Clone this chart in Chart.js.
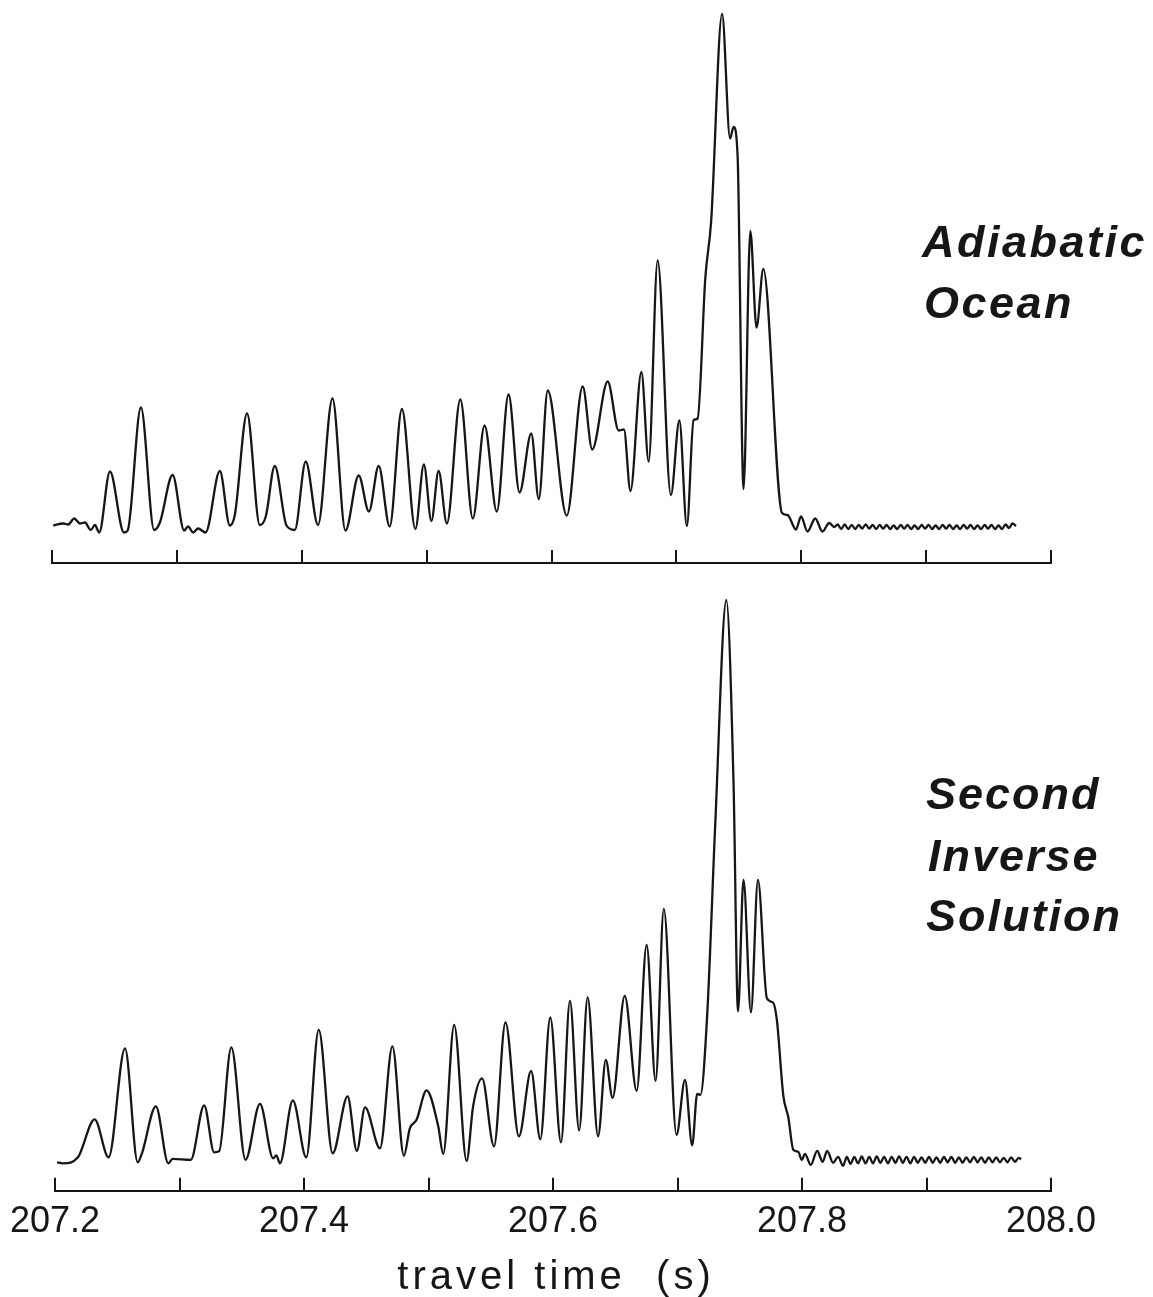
<!DOCTYPE html>
<html><head><meta charset="utf-8">
<script src="https://cdn.jsdelivr.net/npm/chart.js@4.4.1/dist/chart.umd.min.js"></script>
<style>
html,body{margin:0;padding:0;background:#fff;width:1153px;height:1297px;overflow:hidden}
#topChart{position:absolute;left:0;top:0}
#botChart{position:absolute;left:0;top:580px}
</style></head><body>
<canvas id="topChart" width="1153" height="576"></canvas>
<canvas id="botChart" width="1153" height="717"></canvas>
<script>
// ---------------- data ----------------
const xMin = 207.2, xMax = 208.0, xStep = 0.1;
const tickLabels = ['207.2', '207.4', '207.6', '207.8', '208.0'];
const axisTitle = 'travel time  (s)';
const topLabel = ['Adiabatic', 'Ocean'];
const botLabel = ['Second', 'Inverse', 'Solution'];

// time after 207.2 s, in milliseconds
const topTimeMs = [1.0, 9.0, 13.0, 17.8, 22.4, 26.4, 31.0, 34.4, 37.8, 46.4, 57.6, 60.6, 71.2, 81.8, 86.4, 96.6, 105.8, 109.0, 113.0, 117.0, 123.0,
  134.4, 142.4, 146.4, 156.2, 166.4, 171.2, 178.4, 187.8, 194.4, 203.2, 213.0, 224.6, 235.0, 245.6, 253.8, 261.6, 270.4, 280.2, 291.0,
  297.8, 303.8, 309.6, 316.2, 327.0, 337.0, 346.4, 356.2, 365.6, 374.4, 383.8, 389.8, 397.0, 412.2, 425.0, 432.6, 445.0, 453.8, 458.0,
  463.2, 472.0, 477.8, 485.0, 495.6, 502.4, 508.4, 513.8, 517.0, 523.2, 527.8, 536.6, 543.0, 545.8, 549.0, 553.8, 559.2, 564.2, 569.6,
  584.6, 589.0, 595.8, 599.8, 605.0, 611.2, 617.0, 622.4, 626.4,
  629.2, 632.0, 634.8, 637.6, 640.4, 643.2, 646.0, 648.8, 651.6, 654.4, 657.2, 660.0, 662.8, 665.6, 668.4, 671.2, 674.0, 676.8, 679.6,
  682.4, 685.2, 688.0, 690.8, 693.6, 696.4, 699.2, 702.0, 704.8, 707.6, 710.4, 713.2, 716.0, 718.8, 721.6, 724.4, 727.2, 730.0, 732.8,
  735.6, 738.4, 741.2, 744.0, 746.8, 749.6, 752.4, 755.2, 758.0, 760.8, 763.6, 766.4, 769.2, 772.0];
const topAmp = [-0.1, 0.3, 0.1, 1.3, 0.3, 0.5, -1.0, 0.0, -1.5, 10.7, -1.5, -1.1, 23.5, -1.0, 0.5, 10.0, -1.1, -0.3, -1.5, -0.7, -1.5,
  10.8, -0.1, 2.0, 22.3, 0.0, 1.7, 11.8, -0.1, -1.0, 12.7, 0.0, 25.3, -1.1, 9.9, 2.7, 11.8, -0.3, 23.2, -0.8,
  12.1, 0.8, 10.8, 0.3, 25.1, 1.3, 19.9, 2.7, 26.1, 6.5, 18.3, 5.2, 26.9, 1.9, 27.7, 15.1, 28.7, 18.9, 19.1,
  6.8, 30.6, 12.7, 52.9, 6.0, 20.9, -0.2, 21.0, 21.3, 49.5, 60.6, 102.2, 77.3, 79.6, 74.0, 7.2, 58.8, 39.5, 51.2,
  2.4, 2.0, -0.9, 1.7, -1.3, 1.3, -1.3, 0.4, -0.4,
  0.1, -0.8, 0.1, -0.8, 0.0, -0.8, 0.0, -0.7, 0.1, -0.7, 0.0, -0.8, 0.0, -0.7, 0.0, -0.8, -0.1, -0.8, 0.0,
  -0.7, 0.0, -0.8, -0.1, -0.8, 0.0, -0.7, 0.0, -0.8, -0.1, -0.8, 0.0, -0.7, 0.0, -0.8, -0.1, -0.8, 0.0, -0.7,
  0.0, -0.8, -0.1, -0.8, 0.0, -0.7, 0.0, -0.8, -0.1, -0.8, 0.1, -0.6, 0.3, -0.2];

const botTimeMs = [1.6, 6.4, 18.4, 31.8, 43.0, 56.2, 66.4, 69.8, 81.0, 91.0, 94.4, 109.0, 119.8, 127.8, 131.8, 141.6, 153.0, 164.6,
  175.2, 177.8, 180.6, 191.0, 201.8, 211.8, 223.0, 235.0, 242.4, 249.0, 261.0, 271.0, 280.2, 285.0, 290.4, 298.4, 307.8, 311.8,
  320.6, 330.6, 335.8, 343.0, 352.6, 361.8, 372.6, 382.4, 389.8, 397.8, 406.4, 413.6, 421.0, 427.8, 436.2, 442.4, 447.8, 457.6,
  467.2, 475.2, 482.4, 489.0, 499.2, 506.0, 511.8, 515.8, 518.4, 523.8, 530.4, 539.2, 545.0, 548.6, 553.0, 559.0, 564.6, 571.8,
  576.6, 579.8, 585.0, 589.0, 593.0, 597.0, 599.8, 602.4, 607.0, 612.2, 616.6, 620.2, 625.0, 629.0, 633.0,
  636.0, 639.0, 642.0, 645.0, 648.0, 651.0, 654.0, 657.0, 660.0, 663.0, 666.0, 669.0, 672.0, 675.0, 678.0, 681.0, 684.0, 687.0,
  690.0, 693.0, 696.0, 699.0, 702.0, 705.0, 708.0, 711.0, 714.0, 717.0, 720.0, 723.0, 726.0, 729.0, 732.0, 735.0, 738.0, 741.0,
  744.0, 747.0, 750.0, 753.0, 756.0, 759.0, 762.0, 765.0, 768.0, 771.0, 774.0, 776.0];
const botAmp = [-0.5, -0.7, 0.5, 8.1, 0.5, 22.3, -0.5, 1.3, 10.7, -0.7, 0.2, 0.0, 10.9, 1.5, 1.7, 22.5, 0.0, 11.2,
  0.3, 0.9, -0.7, 11.9, 0.5, 26.0, 1.3, 12.7, 1.8, 10.5, 2.3, 22.7, 0.8, 6.3, 8.0, 13.9, 6.7, 1.2,
  27.0, -0.2, 10.7, 16.3, 2.7, 27.5, 4.7, 17.8, 4.1, 28.5, 3.5, 31.8, 5.9, 32.5, 4.7, 20.0, 12.4, 32.8,
  13.8, 43.0, 15.8, 50.2, 5.0, 16.0, 2.9, 13.2, 13.0, 28.8, 67.7, 112.0, 75.4, 29.7, 56.0, 29.5, 56.0, 32.3,
  31.5, 28.0, 12.8, 8.5, 2.0, 1.6, 0.0, 1.2, -1.0, 1.8, -0.4, 1.8, -0.6, 0.6, -1.2,
  0.6, -0.8, 0.6, -0.7, 0.7, -0.7, 0.6, -0.7, 0.7, -0.6, 0.6, -0.7, 0.6, -0.6, 0.7, -0.6, 0.6, -0.7,
  0.6, -0.6, 0.5, -0.6, 0.6, -0.6, 0.5, -0.6, 0.6, -0.5, 0.6, -0.6, 0.5, -0.6, 0.5, -0.5, 0.6, -0.5,
  0.5, -0.6, 0.5, -0.5, 0.5, -0.5, 0.4, -0.5, 0.5, -0.4, 0.4, 0.1];

// ---------------- helpers ----------------
const INK = '#161616';
const toPoints = (ms, amp) => ms.map((m, i) => ({ x: xMin + m / 1000, y: amp[i] }));

const upTicks = {
  id: 'upTicks',
  afterDraw(chart, args, opts) {
    const s = chart.scales.x, ctx = chart.ctx;
    ctx.save();
    ctx.strokeStyle = INK; ctx.lineWidth = 2;
    s.ticks.forEach(t => {
      const px = Math.round(s.getPixelForValue(t.value));
      ctx.beginPath();
      ctx.moveTo(px, s.top + 1);
      ctx.lineTo(px, s.top - opts.len);
      ctx.stroke();
    });
    ctx.restore();
  }
};

const sideText = {
  id: 'sideText',
  afterDraw(chart, args, opts) {
    if (!opts.lines) return;
    const ctx = chart.ctx;
    ctx.save();
    ctx.fillStyle = INK;
    ctx.font = opts.font;
    ctx.letterSpacing = opts.spacing || '0px';
    ctx.textAlign = 'left';
    ctx.textBaseline = 'alphabetic';
    opts.lines.forEach((t, i) => ctx.fillText(t, opts.x[i], opts.y[i]));
    ctx.restore();
  }
};

const bottomTitle = {
  id: 'bottomTitle',
  afterDraw(chart, args, opts) {
    if (!opts.text) return;
    const ctx = chart.ctx, a = chart.chartArea, s = chart.scales.x;
    ctx.save();
    ctx.fillStyle = INK;
    ctx.font = opts.font;
    ctx.letterSpacing = opts.spacing;
    ctx.textAlign = 'center';
    ctx.textBaseline = 'alphabetic';
    ctx.fillText(opts.text, (a.left + a.right) / 2 + opts.dx, s.bottom + opts.dy);
    ctx.restore();
  }
};

function makeChart(id, points, yMin, yMax, showLabels, padBottom, plugOpts) {
  return new Chart(document.getElementById(id), {
    type: 'line',
    data: { datasets: [{ data: points, borderColor: INK, borderWidth: 2.3, pointRadius: 0,
      cubicInterpolationMode: 'monotone', fill: false }] },
    options: {
      responsive: false, animation: false, devicePixelRatio: 1,
      layout: { padding: { left: 52, right: 102, top: 0, bottom: padBottom } },
      plugins: Object.assign({ legend: { display: false }, tooltip: { enabled: false }, upTicks: { len: 13 } }, plugOpts),
      scales: {
        x: {
          type: 'linear', min: xMin, max: xMax,
          grid: { display: false, drawTicks: false },
          border: { display: true, color: INK, width: 2 },
          ticks: {
            display: showLabels, stepSize: xStep, autoSkip: false, maxRotation: 0, padding: 10,
            color: INK, font: { family: 'Liberation Sans, Arial, sans-serif', size: 36 },
            callback: v => { const l = v.toFixed(1); return tickLabels.includes(l) ? l : ''; }
          }
        },
        y: { display: false, min: yMin, max: yMax }
      }
    },
    plugins: [upTicks, sideText, bottomTitle]
  });
}

const labelFont = 'italic bold 45px "Liberation Sans", Arial, sans-serif';

makeChart('topChart', toPoints(topTimeMs, topAmp), -7.6, 105, false, 13, {
  sideText: { lines: topLabel, font: labelFont, spacing: '2.5px', x: [922, 924], y: [257, 318] },
  bottomTitle: {}
});

makeChart('botChart', toPoints(botTimeMs, botAmp), -6.2, 116, true, 43, {
  sideText: { lines: botLabel, font: labelFont, spacing: '2px', x: [926, 928, 926], y: [229, 291, 351] },
  bottomTitle: { text: axisTitle, font: '40px "Liberation Sans", Arial, sans-serif', spacing: '4px', dx: 3, dy: 35 }
});
</script>
</body></html>
